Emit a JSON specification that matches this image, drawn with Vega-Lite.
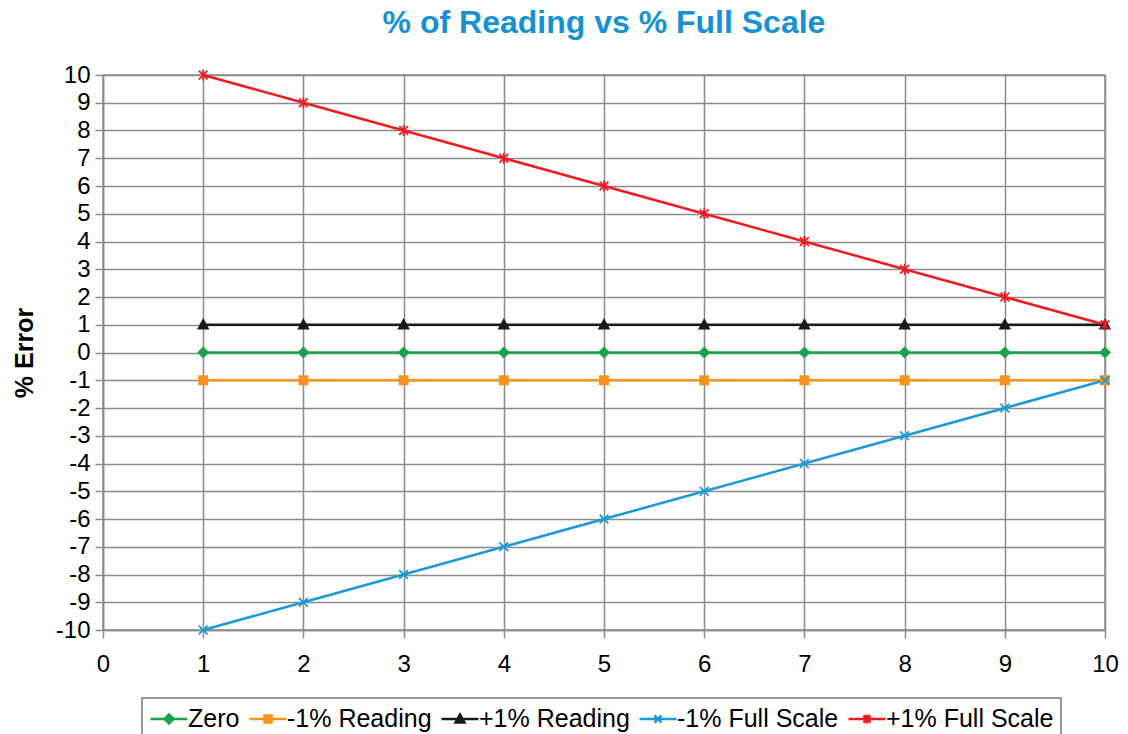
{
  "$schema": "https://vega.github.io/schema/vega-lite/v6.json",
  "width": 1002,
  "height": 555,
  "autosize": {"type": "none"},
  "padding": {"left": 103, "top": 75, "right": 23, "bottom": 104},
  "background": "white",
  "title": {
    "text": "% of Reading vs % Full Scale",
    "font": "Liberation Sans",
    "fontSize": 32,
    "fontWeight": "bold",
    "color": "#1592d2",
    "anchor": "middle",
    "offset": 23
  },
  "config": {
    "view": {"stroke": "#8c8c8c", "strokeWidth": 1.5},
    "axis": {
      "labelFont": "Liberation Sans",
      "labelFontSize": 24,
      "labelColor": "#000",
      "titleFont": "Liberation Sans",
      "titleColor": "#000",
      "gridColor": "#8c8c8c",
      "gridWidth": 1.5,
      "gridOpacity": 1,
      "domainColor": "#8c8c8c",
      "domainWidth": 1.5,
      "tickColor": "#8c8c8c",
      "tickWidth": 1.5,
      "tickSize": 8
    }
  },
  "data": {
    "values": [
      {"x": 1, "series": "Zero", "y": 0}, {"x": 2, "series": "Zero", "y": 0}, {"x": 3, "series": "Zero", "y": 0}, {"x": 4, "series": "Zero", "y": 0}, {"x": 5, "series": "Zero", "y": 0},
      {"x": 6, "series": "Zero", "y": 0}, {"x": 7, "series": "Zero", "y": 0}, {"x": 8, "series": "Zero", "y": 0}, {"x": 9, "series": "Zero", "y": 0}, {"x": 10, "series": "Zero", "y": 0},
      {"x": 1, "series": "-1% Reading", "y": -1}, {"x": 2, "series": "-1% Reading", "y": -1}, {"x": 3, "series": "-1% Reading", "y": -1}, {"x": 4, "series": "-1% Reading", "y": -1}, {"x": 5, "series": "-1% Reading", "y": -1},
      {"x": 6, "series": "-1% Reading", "y": -1}, {"x": 7, "series": "-1% Reading", "y": -1}, {"x": 8, "series": "-1% Reading", "y": -1}, {"x": 9, "series": "-1% Reading", "y": -1}, {"x": 10, "series": "-1% Reading", "y": -1},
      {"x": 1, "series": "+1% Reading", "y": 1}, {"x": 2, "series": "+1% Reading", "y": 1}, {"x": 3, "series": "+1% Reading", "y": 1}, {"x": 4, "series": "+1% Reading", "y": 1}, {"x": 5, "series": "+1% Reading", "y": 1},
      {"x": 6, "series": "+1% Reading", "y": 1}, {"x": 7, "series": "+1% Reading", "y": 1}, {"x": 8, "series": "+1% Reading", "y": 1}, {"x": 9, "series": "+1% Reading", "y": 1}, {"x": 10, "series": "+1% Reading", "y": 1},
      {"x": 1, "series": "-1% Full Scale", "y": -10}, {"x": 2, "series": "-1% Full Scale", "y": -9}, {"x": 3, "series": "-1% Full Scale", "y": -8}, {"x": 4, "series": "-1% Full Scale", "y": -7}, {"x": 5, "series": "-1% Full Scale", "y": -6},
      {"x": 6, "series": "-1% Full Scale", "y": -5}, {"x": 7, "series": "-1% Full Scale", "y": -4}, {"x": 8, "series": "-1% Full Scale", "y": -3}, {"x": 9, "series": "-1% Full Scale", "y": -2}, {"x": 10, "series": "-1% Full Scale", "y": -1},
      {"x": 1, "series": "+1% Full Scale", "y": 10}, {"x": 2, "series": "+1% Full Scale", "y": 9}, {"x": 3, "series": "+1% Full Scale", "y": 8}, {"x": 4, "series": "+1% Full Scale", "y": 7}, {"x": 5, "series": "+1% Full Scale", "y": 6},
      {"x": 6, "series": "+1% Full Scale", "y": 5}, {"x": 7, "series": "+1% Full Scale", "y": 4}, {"x": 8, "series": "+1% Full Scale", "y": 3}, {"x": 9, "series": "+1% Full Scale", "y": 2}, {"x": 10, "series": "+1% Full Scale", "y": 1}
    ]
  },
  "encoding": {
    "x": {
      "field": "x", "type": "quantitative",
      "scale": {"domain": [0, 10], "nice": false, "zero": false},
      "axis": {"values": [0, 1, 2, 3, 4, 5, 6, 7, 8, 9, 10], "title": null, "labelPadding": 14, "labelFlush": false, "labelExpr": "toString(datum.value)"}
    },
    "y": {
      "field": "y", "type": "quantitative",
      "scale": {"domain": [-10, 10], "nice": false},
      "axis": {"values": [-10, -9, -8, -7, -6, -5, -4, -3, -2, -1, 0, 1, 2, 3, 4, 5, 6, 7, 8, 9, 10], "title": "% Error", "titleFontSize": 25, "titleFontWeight": "bold", "titlePadding": 18, "labelPadding": 5, "labelFlush": false, "labelExpr": "toString(datum.value)"}
    }
  },
  "layer": [
    {
      "mark": {"type": "line", "strokeWidth": 2.5},
      "encoding": {
        "color": {
          "field": "series", "type": "nominal",
          "scale": {
            "domain": ["Zero", "-1% Reading", "+1% Reading", "-1% Full Scale", "+1% Full Scale"],
            "range": ["#1aa34a", "#f7941d", "#1a1a1a", "#1b9ad6", "#ed1c24"]
          },
          "legend": {
            "title": null,
            "orient": "none",
            "legendX": 39,
            "legendY": 623,
            "direction": "horizontal",
            "columns": 5,
            "labelFont": "Liberation Sans",
            "labelFontSize": 25,
            "labelColor": "#000",
            "labelOffset": 11,
            "columnPadding": 4,
            "symbolSize": 625,
            "symbolStrokeWidth": 2.5,
            "symbolOpacity": 1,
            "padding": 7,
            "strokeColor": "#7a7a7a",
            "fillColor": "white",
            "labelLimit": 300,
            "encode": {
              "legend": {"update": {"strokeWidth": {"value": 1.5}}},
              "symbols": {
                "update": {
                  "shape": {"signal": "datum.value === 'Zero' ? 'M-1,0L1.96,0M0.48,-0.36L0.84,0L0.48,0.36L0.12,0Z' : datum.value === '-1% Reading' ? 'M-1,0L1.96,0M0.2,-0.28L0.76,-0.28L0.76,0.28L0.2,0.28Z' : datum.value === '+1% Reading' ? 'M-1,0L1.96,0M0.48,-0.36L0.84,0.28L0.12,0.28Z' : datum.value === '-1% Full Scale' ? 'M-1,0L1.96,0M0.2,-0.28L0.76,0.28M0.2,0.28L0.76,-0.28' : 'M-1,0L1.96,0M0.2,-0.28L0.76,0.28M0.2,0.28L0.76,-0.28M0.48,-0.36L0.48,0.36'"},
                  "stroke": {"signal": "scale('color', datum.value)"},
                  "fill": {"signal": "scale('color', datum.value)"},
                  "strokeWidth": {"value": 2.5},
                  "opacity": {"value": 1}
                }
              }
            }
          }
        }
      }
    },
    {
      "transform": [{"filter": {"field": "series", "equal": "Zero"}}],
      "mark": {"type": "point", "shape": "M0,-1L1,0L0,1L-1,0Z", "filled": true, "fill": "#1aa34a", "stroke": "#1aa34a", "strokeWidth": 1.5, "opacity": 1, "size": 100}
    },
    {
      "transform": [{"filter": {"field": "series", "equal": "-1% Reading"}}],
      "mark": {"type": "point", "shape": "M-0.8,-0.8L0.8,-0.8L0.8,0.8L-0.8,0.8Z", "filled": true, "fill": "#f7941d", "stroke": "#f7941d", "strokeWidth": 1.5, "opacity": 1, "size": 110}
    },
    {
      "transform": [{"filter": {"field": "series", "equal": "+1% Reading"}}],
      "mark": {"type": "point", "shape": "M0,-1L0.95,0.75L-0.95,0.75Z", "filled": true, "fill": "#1a1a1a", "stroke": "#1a1a1a", "strokeWidth": 1.5, "opacity": 1, "size": 110}
    },
    {
      "transform": [{"filter": {"field": "series", "equal": "-1% Full Scale"}}],
      "mark": {"type": "point", "shape": "M-0.8,-0.8L0.8,0.8M-0.8,0.8L0.8,-0.8", "filled": false, "stroke": "#1b9ad6", "strokeWidth": 1.8, "opacity": 1, "size": 120}
    },
    {
      "transform": [{"filter": {"field": "series", "equal": "+1% Full Scale"}}],
      "mark": {"type": "point", "shape": "M-0.8,-0.8L0.8,0.8M-0.8,0.8L0.8,-0.8M0,-1L0,1", "filled": false, "stroke": "#ed1c24", "strokeWidth": 1.8, "opacity": 1, "size": 120}
    }
  ]
}
